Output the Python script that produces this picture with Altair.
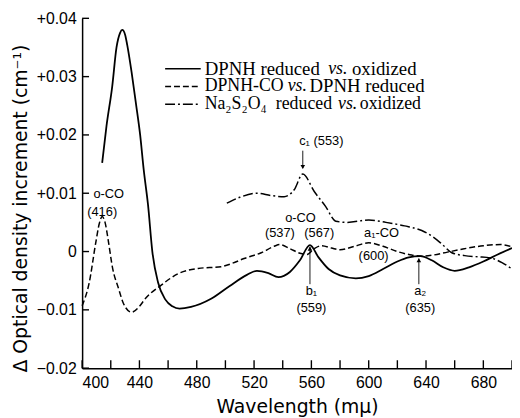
import altair as alt
import pandas as pd

# ---------------- data ----------------
solid_wl = [414, 417, 421, 424, 426.5, 428, 430, 431.5, 434.5, 437.5, 440.5, 443, 446, 449, 453, 458, 463, 468, 476, 490, 503, 515, 522,
            530, 537, 545, 552, 559, 565, 572, 580, 591, 600, 610, 620, 628, 636, 644, 652, 660, 670, 680, 690, 700]
solid_od = [0.0152, 0.0215, 0.0283, 0.0350, 0.0375, 0.0380, 0.0372, 0.0354, 0.0308, 0.0255, 0.0200, 0.0140, 0.0080, 0.0000, -0.0053,
            -0.0082, -0.0094, -0.0098, -0.0095, -0.0081, -0.0059, -0.0040, -0.0033,
            -0.0037, -0.0044, -0.0035, -0.0015, 0.0011, -0.0010, -0.0030, -0.0041, -0.0046, -0.0042, -0.0030, -0.0017, -0.0010,
            -0.0008, -0.0015, -0.0027, -0.0033, -0.0027, -0.0017, -0.0005, 0.0006]

dashed_wl = [400, 405, 409.5, 412, 414, 416, 418.5, 421, 425.5, 429, 434.5, 440, 444, 455, 467, 481, 497, 505, 513, 525, 534, 538,
             545, 552, 557, 562, 567, 574, 580, 590, 600, 610, 620, 630, 637, 645, 655, 665, 680, 692, 700]
dashed_od = [-0.0093, -0.0053, 0.0015, 0.0048, 0.0060, 0.0050, 0.0015, -0.0025, -0.0064, -0.0090, -0.0104, -0.0094, -0.0081, -0.0058,
             -0.0038, -0.0029, -0.0026, -0.0020, -0.0012, -0.0002, 0.0009, 0.0012, 0.0005, -0.0003, -0.0005, 0.0005, 0.0010,
             0.0006, 0.0003, 0.0009, 0.0015, 0.0009, 0.0000, -0.0006, -0.0008, -0.0006, -0.0001, 0.0004, 0.0010, 0.0012, 0.0008]

dashdot_wl = [501, 510, 522, 532, 541, 548, 554, 562, 570, 577, 585, 600, 612, 625, 637, 645, 651, 658, 667, 676, 685, 693, 700]
dashdot_od = [0.0083, 0.0093, 0.0100, 0.0096, 0.0094, 0.0106, 0.0133, 0.0103, 0.0077, 0.0052, 0.0050, 0.0054, 0.0050, 0.0044,
              0.0036, 0.0025, 0.0013, -0.0002, -0.0007, -0.0009, -0.0011, -0.0019, -0.0030]

x_label_values = [400, 440, 480, 520, 560, 600, 640, 680]
x_tick_values = [400, 420, 440, 460, 480, 500, 520, 540, 560, 580, 600, 620, 640, 660, 680, 700]
y_tick_values = [-0.02, -0.01, 0.0, 0.01, 0.02, 0.03, 0.04]

ann_text = ["o-CO", "(416)", "o-CO", "(537)", "(567)", "a\u2081-CO", "(600)", "b\u2081", "(559)", "a\u2082", "(635)"]
ann_wl = [418.6, 414, 552.4, 538, 565.5, 609, 603.4, 560, 560, 636, 636]
ann_od = [0.0098, 0.0068, 0.0058, 0.0031, 0.0031, 0.0032, -0.0007, -0.0068, -0.0097, -0.0068, -0.0097]

c1_text = ["c\u2081 (553)"]
c1_wl = [551.5]
c1_od = [0.0190]

arrow_wl = [554, 559, 635]
arrow_top = [0.0173, 0.0008, -0.0012]
arrow_bottom = [0.0143, -0.0056, -0.0056]
arrow_head_od = [0.0145, 0.0005, -0.0015]
arrow_head_shape = ["triangle-down", "triangle-up", "triangle-up"]

X_TITLE = "Wavelength (m\u03bc)"
Y_TITLE = "\u0394 Optical density increment (cm\u207b\u00b9)"

W, H = 435, 354
x_scale = alt.Scale(domain=[400, 700], nice=False, zero=False)
y_scale = alt.Scale(domain=[-0.02, 0.04], nice=False, zero=False)

SANS = "Liberation Sans"
SERIF = "Liberation Serif"
TITLE_FONT = "DejaVu Sans"

X_AXIS = alt.Axis(
    title=X_TITLE, values=x_label_values, ticks=False, grid=False,
    labelFont=SANS, labelFontSize=16, labelColor="black", labelPadding=7,
    titleFont=TITLE_FONT, titleFontSize=19, titleFontWeight="normal", titleColor="black",
    titleX=W / 2, titleY=45, titleBaseline="alphabetic", titleAlign="center",
    domainColor="black", domainWidth=1.5)
Y_AXIS = alt.Axis(
    title=Y_TITLE, values=y_tick_values, ticks=False, grid=False,
    labelExpr="datum.value > 0.0001 ? '+' + format(datum.value, '.2f') : (datum.value < -0.0001 ? '\u2212' + format(-datum.value, '.2f') : '0')",
    labelFont=SANS, labelFontSize=16, labelColor="black", labelPadding=6,
    titleFont=TITLE_FONT, titleFontSize=19, titleFontWeight="normal", titleColor="black",
    titleX=-56, titleY=192, titleBaseline="alphabetic", titleAlign="center", titleAngle=270,
    domainColor="black", domainWidth=1.5)


def X(field):
    return alt.X(field, scale=x_scale, axis=X_AXIS, title=X_TITLE)


def Y(field):
    return alt.Y(field, scale=y_scale, axis=Y_AXIS, title=Y_TITLE)


def line_layer(wl, od, dash, width):
    d = pd.DataFrame({"wl": wl, "od": od, "i": range(len(wl))})
    kw = {"strokeDash": dash} if dash else {}
    return alt.Chart(d).mark_line(color="black", strokeWidth=width, interpolate="monotone", **kw).encode(
        x=X("wl:Q"), y=Y("od:Q"), order="i:Q")


solid = line_layer(solid_wl, solid_od, None, 1.8)
dashed = line_layer(dashed_wl, dashed_od, [6, 3], 1.5)
dashdot = line_layer(dashdot_wl, dashdot_od, [10, 3, 2, 3], 1.5)

yticks = alt.Chart(pd.DataFrame({"od": y_tick_values})).mark_rule(color="black", strokeWidth=1.4).encode(
    y=Y("od:Q"), x=alt.value(0), x2=alt.value(7))
xticks = alt.Chart(pd.DataFrame({"wl": x_tick_values})).mark_rule(color="black", strokeWidth=1.4).encode(
    x=X("wl:Q"), y=alt.value(H), y2=alt.value(H - 8))

ann = alt.Chart(pd.DataFrame({"t": ann_text, "wl": ann_wl, "od": ann_od})).mark_text(
    font=SANS, fontSize=13, color="black", align="center", baseline="middle").encode(
    x=X("wl:Q"), y=Y("od:Q"), text="t:N")

c1 = alt.Chart(pd.DataFrame({"t": c1_text, "wl": c1_wl, "od": c1_od})).mark_text(
    font=SANS, fontSize=13, color="black", align="left", baseline="middle").encode(
    x=X("wl:Q"), y=Y("od:Q"), text="t:N")

arr_df = pd.DataFrame({"wl": arrow_wl, "od": arrow_top, "bot": arrow_bottom,
                       "head": arrow_head_od, "shape": arrow_head_shape})
arrows = alt.Chart(arr_df).mark_rule(color="black", strokeWidth=0.9).encode(
    x=X("wl:Q"), y=Y("od:Q"), y2="bot:Q")
heads = alt.Chart(arr_df).mark_point(color="black", filled=True, size=22, opacity=1).encode(
    x=X("wl:Q"), y=Y("head:Q"), shape=alt.Shape("shape:N", scale=None))

# ---------------- hand-drawn legend (pixel layout) ----------------
one = pd.DataFrame({"_": [0]})
legend_layers = []
legend_rows = [
    (51, None, [("DPNH reduced", 124, "normal", 19), ("vs.", 249, "italic", 18), ("oxidized", 273, "normal", 19)]),
    (69, [6, 3], [("DPNH-CO", 124, "normal", 18), ("vs.", 208, "italic", 18), ("DPNH reduced", 230, "normal", 19)]),
    (87, [10, 3, 2, 3], [("Na\u2082S\u2082O\u2084", 124, "normal", 18), ("reduced", 196, "normal", 18),
                         ("vs.", 259, "italic", 18), ("oxidized", 281, "normal", 18)]),
]
for y, dash, segs in legend_rows:
    kw = {"strokeDash": dash} if dash else {}
    legend_layers.append(alt.Chart(one).mark_rule(color="black", strokeWidth=1.6, **kw).encode(
        x=alt.value(84), x2=alt.value(120), y=alt.value(y)))
    for txt, xx, style, fs in segs:
        legend_layers.append(alt.Chart(one).mark_text(
            text=txt, font=SERIF, fontSize=fs, fontStyle=style, color="black",
            align="left", baseline="middle").encode(x=alt.value(xx), y=alt.value(y)))

chart = alt.layer(solid, dashed, dashdot, yticks, xticks, ann, c1, arrows, heads, *legend_layers).properties(
    width=W, height=H,
    autosize=alt.AutoSizeParams(type="none"),
    padding={"left": 75, "top": 8, "right": 0, "bottom": 48},
    background="white",
).configure_view(stroke=None)

chart.save("out.html", embed_options={"renderer": "svg", "actions": False})
